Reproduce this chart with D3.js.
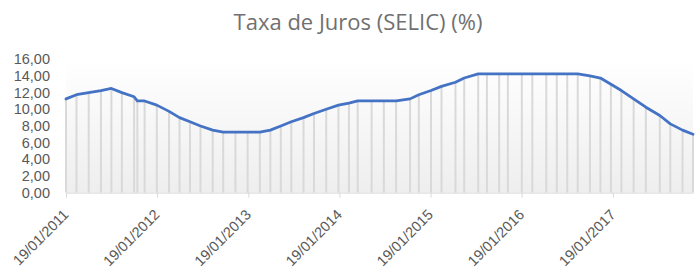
<!DOCTYPE html>
<html>
<head>
<meta charset="utf-8">
<script src="https://cdn.jsdelivr.net/npm/d3@7"></script>
<style>
  body { margin: 0; background: #fff; }
  svg { display: block; font-family: "Open Sans", sans-serif; }
  .axis text { fill: #595959; font-size: 14.5px; }
  .axis path, .axis line { stroke: #d9d9d9; }
</style>
</head>
<body>
<svg id="chart" width="700" height="279"></svg>
<script>
// Copom meeting dates and SELIC target (%)
const dates = [
  '2011-01-19','2011-03-02','2011-04-20','2011-06-08','2011-07-20','2011-08-31','2011-10-19','2011-11-01','2011-11-30',
  '2012-01-18','2012-03-07','2012-04-18','2012-05-30','2012-07-11','2012-08-29','2012-10-10','2012-11-28',
  '2013-01-16','2013-03-06','2013-04-17','2013-05-29','2013-07-10','2013-08-28','2013-10-09','2013-11-27',
  '2014-01-15','2014-02-26','2014-04-02','2014-05-28','2014-07-16','2014-09-03','2014-10-29','2014-12-03',
  '2015-01-21','2015-03-04','2015-04-29','2015-06-03','2015-07-29','2015-09-02','2015-10-21','2015-11-25',
  '2016-01-20','2016-03-02','2016-04-27','2016-06-08','2016-07-20','2016-08-31','2016-10-19','2016-11-30',
  '2017-01-11','2017-02-22','2017-04-12','2017-05-31','2017-07-26','2017-09-06','2017-10-25','2017-12-06'
];
const selic = [
  11.25, 11.75, 12.00, 12.25, 12.50, 12.00, 11.50, 11.00, 11.00,
  10.50, 9.75, 9.00, 8.50, 8.00, 7.50, 7.25, 7.25,
  7.25, 7.25, 7.50, 8.00, 8.50, 9.00, 9.50, 10.00,
  10.50, 10.75, 11.00, 11.00, 11.00, 11.00, 11.25, 11.75,
  12.25, 12.75, 13.25, 13.75, 14.25, 14.25, 14.25, 14.25,
  14.25, 14.25, 14.25, 14.25, 14.25, 14.25, 14.00, 13.75,
  13.00, 12.25, 11.25, 10.25, 9.25, 8.25, 7.50, 7.00
];
const yTicks = [0, 2, 4, 6, 8, 10, 12, 14, 16];
const xTickLabels = ['19/01/2011','19/01/2012','19/01/2013','19/01/2014','19/01/2015','19/01/2016','19/01/2017'];
const title = 'Taxa de Juros (SELIC) (%)';

const parseIso = d3.timeParse('%Y-%m-%d');
const parseBr = d3.timeParse('%d/%m/%Y');
const data = dates.map((d, i) => ({ date: parseIso(d), value: selic[i] }));

const svg = d3.select('#chart');
const plot = { left: 66, right: 693, top: 59.3, bottom: 192.6 };

const x = d3.scaleTime()
  .domain(d3.extent(data, d => d.date))
  .range([plot.left, plot.right]);
const y = d3.scaleLinear()
  .domain([0, 16])
  .range([plot.bottom, plot.top]);

const ptBR = d3.formatLocale({ decimal: ',', thousands: '.', grouping: [3], currency: ['R$', ''] });
const fmt = ptBR.format('.2f');

// plot area background gradient
const defs = svg.append('defs');
const grad = defs.append('linearGradient')
  .attr('id', 'bg').attr('x1', 0).attr('y1', 0).attr('x2', 0).attr('y2', 1);
grad.append('stop').attr('offset', '0%').attr('stop-color', '#ffffff');
grad.append('stop').attr('offset', '100%').attr('stop-color', '#eeeeee');

svg.append('rect')
  .attr('x', plot.left)
  .attr('y', plot.top)
  .attr('width', plot.right - plot.left)
  .attr('height', plot.bottom - plot.top)
  .attr('fill', 'url(#bg)');

// title
svg.append('text')
  .attr('x', 358)
  .attr('y', 30)
  .attr('text-anchor', 'middle')
  .attr('fill', '#707070')
  .style('font-size', '22px')
  .text(title);

// y axis (labels only)
const yAxisG = svg.append('g')
  .attr('class', 'axis y-axis')
  .attr('transform', `translate(${plot.left},0)`)
  .call(d3.axisLeft(y).tickValues(yTicks).tickFormat(fmt).tickSize(0).tickPadding(16));
yAxisG.select('.domain').remove();

// drop lines
svg.append('g')
  .selectAll('line')
  .data(data)
  .join('line')
  .attr('x1', d => x(d.date))
  .attr('x2', d => x(d.date))
  .attr('y1', d => y(d.value))
  .attr('y2', y(0))
  .attr('stroke', '#d9d9d9')
  .attr('stroke-width', 2);

// x axis
const xAxisG = svg.append('g')
  .attr('class', 'axis x-axis')
  .attr('transform', `translate(0,${plot.bottom})`)
  .call(d3.axisBottom(x)
    .tickValues(xTickLabels.map(parseBr))
    .tickFormat(d3.timeFormat('%d/%m/%Y'))
    .tickSizeInner(5)
    .tickSizeOuter(0));

xAxisG.selectAll('text')
  .style('text-anchor', 'end')
  .attr('x', 0)
  .attr('y', 0)
  .attr('dy', 0)
  .attr('transform', 'translate(3,23) rotate(-45)');

// line
const line = d3.line()
  .x(d => x(d.date))
  .y(d => y(d.value));

svg.append('path')
  .datum(data)
  .attr('fill', 'none')
  .attr('stroke', '#4472c4')
  .attr('stroke-width', 2.75)
  .attr('stroke-linejoin', 'round')
  .attr('stroke-linecap', 'round')
  .attr('d', line);
</script>
</body>
</html>
